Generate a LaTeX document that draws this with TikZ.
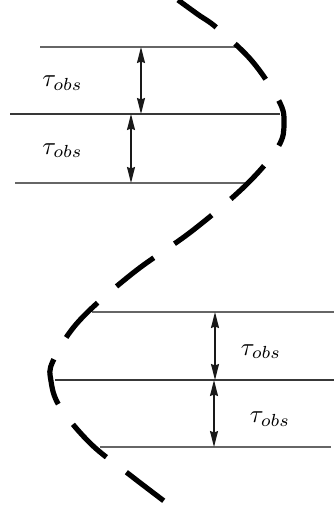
\documentclass[tikz,border=0pt]{standalone}
\usetikzlibrary{arrows.meta}
\begin{document}
\begin{tikzpicture}[x=1pt,y=-1pt,
  thinline/.style={draw=black!60,line width=1.1pt},
  midline/.style={draw=black!78,line width=1.6pt},
  gap/.style={draw=black!90,line width=1.3pt,{Stealth[length=16pt,width=8pt,inset=1.5pt]}-{Stealth[length=16pt,width=8pt,inset=1.5pt]}},
  lbl/.style={scale=2.5,inner sep=0pt,anchor=base},
  wave/.style={line width=5.2pt,dash pattern=on 47pt off 25pt}]
\useasboundingbox (0,0) rectangle (334,514);
% top group
\coordinate (a1) at (40,47);  \coordinate (a2) at (236,47);
\coordinate (b1) at (10,114); \coordinate (b2) at (280,114);
\coordinate (c1) at (15,183); \coordinate (c2) at (245,183);
\draw[thinline] (a1) -- (a2);
\draw[midline] (b1) -- (b2);
\draw[thinline] (c1) -- (c2);
\coordinate (g1t) at (141,47); \coordinate (g1b) at (141,114);
\coordinate (g2t) at (131,114); \coordinate (g2b) at (131,183);
\draw[gap] (g1t) -- (g1b);
\draw[gap] (g2t) -- (g2b);
\node[lbl] (t1) at (62.5,86.5) {$\tau_{obs}$};
\node[lbl] (t2) at (62.5,154) {$\tau_{obs}$};
% bottom group
\coordinate (d1) at (92,312);  \coordinate (d2) at (334,312);
\coordinate (e1) at (55,380);  \coordinate (e2) at (334,380);
\coordinate (f1) at (100,447); \coordinate (f2) at (331,447);
\draw[thinline] (d1) -- (d2);
\draw[midline] (e1) -- (e2);
\draw[thinline] (f1) -- (f2);
\coordinate (g3t) at (215,312); \coordinate (g3b) at (215,380);
\coordinate (g4t) at (214,380); \coordinate (g4b) at (214,447);
\draw[gap] (g3t) -- (g3b);
\draw[gap] (g4t) -- (g4b);
\node[lbl] (t3) at (261,355) {$\tau_{obs}$};
\node[lbl] (t4) at (270,422.5) {$\tau_{obs}$};
% dashed wave
\draw[wave] plot[smooth,tension=0.6] coordinates {
 (178,0) (198,14.5) (217,28) (252,61) (279,101) (284,123) (278,147)
 (246,185) (192,231) (133,273) (79,321) (53,361) (51,381) (60,407)
 (91,444) (130,475) (168,504)};
\end{tikzpicture}
\end{document}
